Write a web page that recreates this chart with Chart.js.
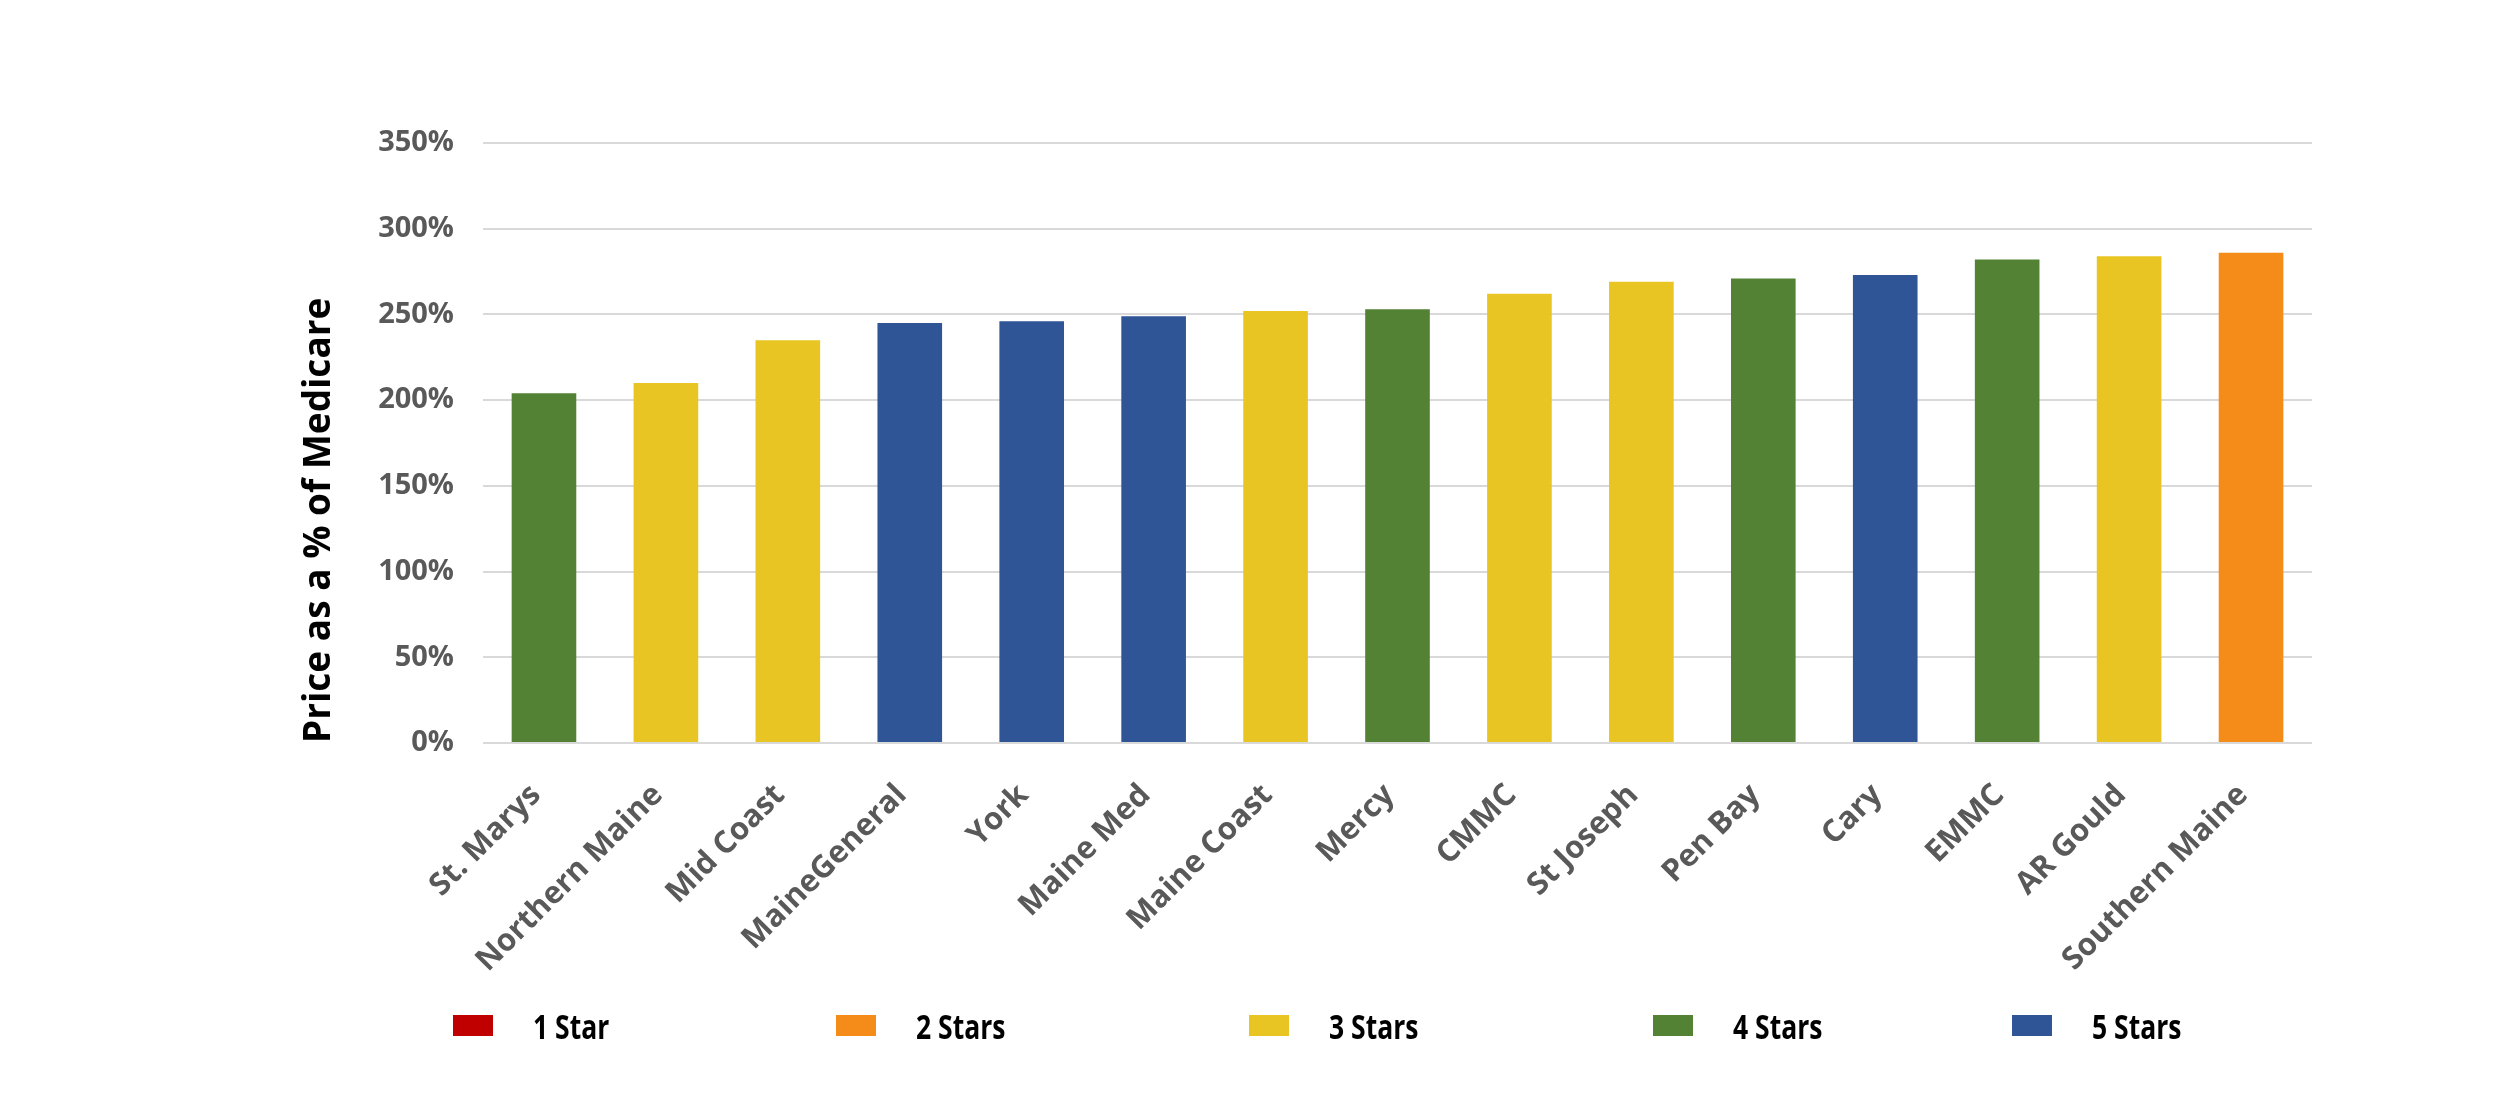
<!DOCTYPE html>
<html>
<head>
<meta charset="utf-8">
<script src="https://cdn.jsdelivr.net/npm/chart.js@4/dist/chart.umd.min.js"></script>
<style>
  html, body { margin: 0; padding: 0; background: #fff; }
  #wrap { width: 2500px; height: 1110px; }
</style>
</head>
<body>
<div id="wrap"><canvas id="grafico"></canvas></div>
<script>
// dados
const hospitais = ["St. Marys", "Northern Maine", "Mid Coast", "MaineGeneral", "York", "Maine Med",
  "Maine Coast", "Mercy", "CMMC", "St Joseph", "Pen Bay", "Cary", "EMMC", "AR Gould", "Southern Maine"];
const precos = [204, 210, 235, 245, 246, 249, 252, 253, 262, 269, 271, 273, 282, 284, 286];
const estrelas = [4, 3, 3, 5, 5, 5, 3, 4, 3, 3, 4, 5, 4, 3, 2];
const legendaNomes = ["1 Star", "2 Stars", "3 Stars", "4 Stars", "5 Stars"];
const coresEstrelas = ["#C00000", "#F58C1A", "#E8C523", "#548235", "#2F5597"];
const yTicks = [0, 50, 100, 150, 200, 250, 300, 350];

// legenda desenhada na parte de baixo
const legendaX = [453, 836, 1249, 1653, 2012];
const legendaPlugin = {
  id: "legendaEstrelas",
  afterDraw(chart) {
    const ctx = chart.ctx;
    ctx.save();
    legendaNomes.forEach((nome, i) => {
      const x = legendaX[i];
      ctx.fillStyle = coresEstrelas[i];
      ctx.fillRect(x, 1015, 40, 21);
      ctx.save();
      ctx.translate(x + 80, 1029);
      ctx.scale(0.78, 1);
      ctx.fillStyle = "#000";
      ctx.font = "bold 34px 'Open Sans'";
      ctx.textBaseline = "middle";
      ctx.fillText(nome, 0, 0);
      ctx.restore();
    });
    ctx.restore();
  }
};

const graficoEl = document.getElementById("grafico");
new Chart(graficoEl, {
  type: "bar",
  data: {
    labels: hospitais,
    datasets: [{
      label: "Price as a % of Medicare",
      data: precos,
      backgroundColor: estrelas.map((e) => coresEstrelas[e - 1]),
      borderWidth: 0,
      barPercentage: 0.53,
      categoryPercentage: 1,
    }],
  },
  options: {
    responsive: true,
    maintainAspectRatio: false,
    animation: false,
    devicePixelRatio: 1,
    layout: { padding: { left: 293, right: 188, top: 143, bottom: 117 } },
    plugins: {
      legend: { display: false },
      tooltip: { enabled: false },
    },
    scales: {
      x: {
        grid: { display: false },
        border: { display: false },
        ticks: {
          color: "#595959",
          font: { family: "'Open Sans'", size: 31, weight: "bold" },
          minRotation: 45,
          maxRotation: 45,
          autoSkip: false,
          padding: 26,
          labelOffset: -8,
        },
        afterFit: (s) => { s.height = 250; },
      },
      y: {
        min: 0,
        max: 350,
        afterBuildTicks: (s) => { s.ticks = yTicks.map((v) => ({ value: v })); },
        grid: { color: "#D9D9D9", lineWidth: 2, drawTicks: false },
        border: { display: false },
        ticks: {
          color: "#595959",
          font: { family: "'Open Sans'", size: 29, weight: "bold" },
          padding: 29,
          callback: (v) => v + "%",
        },
        title: {
          display: true,
          text: "Price as a % of Medicare",
          align: "start",
          color: "#000",
          font: { family: "'Open Sans'", size: 37, weight: "bold" },
        },
        afterFit: (s) => { s.width = 190; },
      },
    },
  },
  plugins: [legendaPlugin],
});
</script>
</body>
</html>
